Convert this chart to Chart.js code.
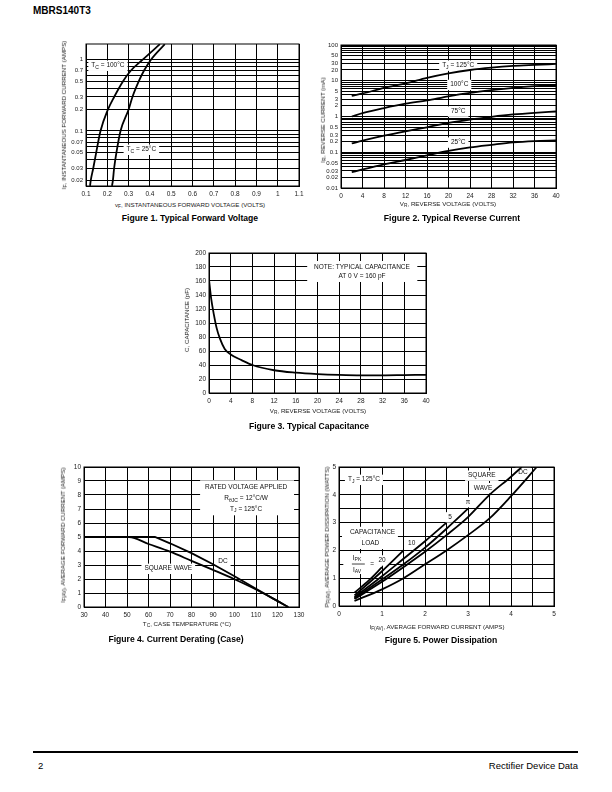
<!DOCTYPE html>
<html>
<head>
<meta charset="utf-8">
<script src="https://cdn.jsdelivr.net/npm/chart.js@4.4.1/dist/chart.umd.min.js"></script>
<style>
body { margin: 0; background: #fff; }
#page { position: relative; width: 612px; height: 792px; background: #fff; font-family: "Liberation Sans", Arial, sans-serif; color: #000; overflow: hidden; }
canvas { position: absolute; }
.t { position: absolute; white-space: nowrap; font-size: 6.2px; line-height: 1; transform: translate(-50%, -50%); color: #222; }
.rot { transform: translate(-50%, -50%) rotate(-90deg); }
.cap { position: absolute; white-space: nowrap; font-size: 8.6px; font-weight: bold; line-height: 1; transform: translate(-50%, -50%); }
sub { font-size: 0.78em; vertical-align: -0.3em; line-height: 0; }
#head { position: absolute; left: 33px; top: 5px; font-size: 10px; font-weight: bold; }
#rule { position: absolute; left: 33px; top: 751px; width: 545px; height: 2px; background: #000; }
#pg { position: absolute; left: 38px; top: 760px; font-size: 9.5px; }
#src { position: absolute; right: 34px; top: 760px; font-size: 9.5px; }
</style>
</head>
<body>
<div id="page">
  <div id="head">MBRS140T3</div>

  <canvas id="fig1"></canvas>
  <div class="t rot" style="left:64px;top:115px">I<sub>F</sub>, INSTANTANEOUS FORWARD CURRENT (AMPS)</div>
  <div class="t" style="left:190px;top:205px">v<sub>F</sub>, INSTANTANEOUS FORWARD VOLTAGE (VOLTS)</div>
  <div class="cap" style="left:190px;top:218px">Figure 1. Typical Forward Voltage</div>

  <canvas id="fig2"></canvas>
  <div class="t rot" style="left:323px;top:120px">I<sub>R</sub>, REVERSE CURRENT (mA)</div>
  <div class="t" style="left:448px;top:204px">V<sub>R</sub>, REVERSE VOLTAGE (VOLTS)</div>
  <div class="cap" style="left:452px;top:218px">Figure 2. Typical Reverse Current</div>

  <canvas id="fig3"></canvas>
  <div class="t rot" style="left:187px;top:320px">C, CAPACITANCE (pF)</div>
  <div class="t" style="left:318px;top:411px">V<sub>R</sub>, REVERSE VOLTAGE (VOLTS)</div>
  <div class="cap" style="left:309px;top:426px">Figure 3. Typical Capacitance</div>

  <canvas id="fig4"></canvas>
  <div class="t rot" style="left:63px;top:535px">I<sub>F(AV)</sub>, AVERAGE FORWARD CURRENT (AMPS)</div>
  <div class="t" style="left:187px;top:624px">T<sub>C</sub>, CASE TEMPERATURE (°C)</div>
  <div class="cap" style="left:176px;top:639px">Figure 4. Current Derating (Case)</div>

  <canvas id="fig5"></canvas>
  <div class="t rot" style="left:327px;top:537px">P<sub>F(AV)</sub>, AVERAGE POWER DISSIPATION (WATTS)</div>
  <div class="t" style="left:437px;top:627px">I<sub>F(AV)</sub>, AVERAGE FORWARD CURRENT (AMPS)</div>
  <div class="cap" style="left:441px;top:640px">Figure 5. Power Dissipation</div>

  <div id="rule"></div>
  <div id="pg">2</div>
  <div id="src">Rectifier Device Data</div>
</div>

<script>
// Figure 1: forward voltage (V) vs forward current (A)
const fig1Current = [0.017, 0.02, 0.03, 0.05, 0.1, 0.2, 0.3, 0.5, 0.7, 1.0, 1.65];
const fig1Volts100 = [0.119, 0.122, 0.134, 0.148, 0.168, 0.203, 0.232, 0.274, 0.31, 0.366, 0.447];
const fig1Volts25 = [0.222, 0.226, 0.232, 0.243, 0.262, 0.3, 0.318, 0.348, 0.372, 0.405, 0.47];
const fig1XTicks = [0.1, 0.2, 0.3, 0.4, 0.5, 0.6, 0.7, 0.8, 0.9, 1, 1.1];
const fig1YTicks = [0.02, 0.03, 0.05, 0.07, 0.1, 0.2, 0.3, 0.5, 0.7, 1];

// Figure 2: reverse current (mA) vs reverse voltage
const fig2Volts = [2, 4, 8, 12, 16, 20, 24, 28, 32, 36, 40];
const fig2I125 = [3.8, 4.4, 6.3, 8.4, 12, 16, 20, 23.3, 26, 27.8, 29.5];
const fig2I100 = [1.0, 1.24, 1.72, 2.28, 2.84, 3.68, 4.57, 5.44, 6.33, 7.06, 7.54];
const fig2I75 = [0.176, 0.21, 0.29, 0.385, 0.5, 0.66, 0.82, 0.98, 1.14, 1.27, 1.38];
const fig2I25 = [0.0277, 0.033, 0.0458, 0.0607, 0.082, 0.109, 0.136, 0.161, 0.188, 0.205, 0.214];
const fig2XTicks = [0, 4, 8, 12, 16, 20, 24, 28, 32, 36, 40];
const fig2YTicks = [0.01, 0.02, 0.03, 0.05, 0.1, 0.2, 0.3, 0.5, 1, 2, 3, 5, 10, 20, 30, 50, 100];

// Figure 3: capacitance
const fig3Volts = [0, 0.4, 0.9, 1.4, 2, 2.9, 4, 6, 8, 12, 16, 20, 24, 28, 32, 36, 40];
const fig3Cap = [162, 135, 112, 93, 78, 63, 55, 47, 40, 32.5, 29, 27, 25.8, 25.2, 25.2, 25.6, 26];
const fig3XTicks = [0, 4, 8, 12, 16, 20, 24, 28, 32, 36, 40];
const fig3YTicks = [0, 20, 40, 60, 80, 100, 120, 140, 160, 180, 200];

// Figure 4: current derating
const fig4TempSq = [30, 51, 60, 70, 80, 90, 100, 110, 118, 125];
const fig4AmpsSq = [5, 5, 4.5, 3.95, 3.3, 2.65, 1.98, 1.25, 0.6, 0];
const fig4TempDc = [30, 63, 70, 80, 90, 100, 110, 118, 125];
const fig4AmpsDc = [5, 5, 4.55, 3.85, 3.05, 2.2, 1.3, 0.6, 0];
const fig4XTicks = [30, 40, 50, 60, 70, 80, 90, 100, 110, 120, 130];
const fig4YTicks = [0, 1, 2, 3, 4, 5, 6, 7, 8, 9, 10];

// Figure 5: power dissipation
const fig5I20 = [0.36, 0.7, 1.0];
const fig5P20 = [0.48, 0.93, 1.4];
const fig5I10 = [0.36, 1.0, 1.5];
const fig5P10 = [0.38, 1.25, 2.0];
const fig5I5 = [0.36, 1.0, 1.5, 2.0, 2.5];
const fig5P5 = [0.32, 1.07, 1.7, 2.33, 3.0];
const fig5IPi = [0.36, 1.0, 1.5, 2.0, 2.5, 3.0];
const fig5PPi = [0.28, 0.95, 1.5, 2.1, 2.78, 3.5];
const fig5ISq = [0.36, 1.0, 1.5, 2.0, 2.5, 3.0, 3.5, 4.0, 4.25];
const fig5PSq = [0.25, 0.87, 1.4, 1.95, 2.55, 3.2, 4.0, 4.65, 5.0];
const fig5IDc = [0.36, 1.0, 1.5, 2.0, 2.5, 3.0, 3.5, 4.0, 4.6];
const fig5PDc = [0.18, 0.6, 1.0, 1.5, 2.0, 2.55, 3.15, 3.95, 5.0];
const fig5Ticks = [0, 1, 2, 3, 4, 5];
const fig5Grid = [0, 0.5, 1, 1.5, 2, 2.5, 3, 3.5, 4, 4.5, 5];

const FONT = '"Liberation Sans", Arial, sans-serif';
Chart.defaults.font.family = FONT;

// 1..9 x 10^e grid lines for the log charts
function decadeGrid(lo, hi) {
  const out = [];
  for (let e = lo; e < hi; e++)
    for (let k = 1; k < 10; k++) out.push(+(k * Math.pow(10, e)).toPrecision(3));
  out.push(Math.pow(10, hi));
  return out;
}

function axis(pos, type, min, max, gridVals, labelVals, size) {
  return {
    type: type, min: min, max: max,
    position: pos === 'x' ? 'bottom' : 'left',
    border: { display: true, color: '#000', width: 1 },
    grid: { color: '#000', lineWidth: 1, drawTicks: false },
    ticks: {
      autoSkip: false, maxRotation: 0, minRotation: 0,
      padding: pos === 'x' ? 4 : 3,
      color: '#222', font: { size: size || 6.5 },
      callback: function (v) {
        const hit = labelVals.find(l => Math.abs(l - v) <= Math.abs(l) * 1e-6 + 1e-12);
        return hit === undefined ? '' : String(hit);
      }
    },
    afterBuildTicks: function (s) { s.ticks = gridVals.map(v => ({ value: v })); },
    afterFit: function (s) { if (pos === 'x') s.height = 14; else s.width = 28; }
  };
}

function parseRich(str) {
  const out = []; const re = /_\{([^}]*)\}/g; let last = 0, m;
  while ((m = re.exec(str))) {
    if (m.index > last) out.push([str.slice(last, m.index), false]);
    out.push([m[1], true]);
    last = re.lastIndex;
  }
  if (last < str.length) out.push([str.slice(last), false]);
  return out;
}

function drawRich(ctx, str, cx, cy, size, pass) {
  const parts = parseRich(str);
  const fMain = size + 'px ' + FONT, fSub = (size * 0.78) + 'px ' + FONT;
  let w = 0;
  parts.forEach(p => { ctx.font = p[1] ? fSub : fMain; w += ctx.measureText(p[0]).width; });
  let x = cx - w / 2;
  if (pass === 'bg') {
    ctx.fillStyle = '#fff';
    ctx.fillRect(x - 3, cy - size * 0.75, w + 6, size * 1.6);
    return;
  }
  ctx.fillStyle = '#111'; ctx.textBaseline = 'middle'; ctx.textAlign = 'left';
  parts.forEach(p => {
    ctx.font = p[1] ? fSub : fMain;
    ctx.fillText(p[0], x, cy + (p[1] ? size * 0.3 : 0));
    x += ctx.measureText(p[0]).width;
  });
}

function notesPlugin(notes) {
  return {
    id: 'notes',
    beforeDatasetsDraw(chart) {
      const ctx = chart.ctx, sx = chart.scales.x, sy = chart.scales.y;
      ctx.save();
      notes.forEach(n => {
        if (n.rect) {
          const x0 = sx.getPixelForValue(n.rect[0]), y0 = sy.getPixelForValue(n.rect[1]);
          const x1 = sx.getPixelForValue(n.rect[2]), y1 = sy.getPixelForValue(n.rect[3]);
          ctx.fillStyle = '#fff';
          ctx.fillRect(Math.min(x0, x1), Math.min(y0, y1), Math.abs(x1 - x0), Math.abs(y1 - y0));
        } else if (n.t && n.box) {
          drawRich(ctx, n.t, sx.getPixelForValue(n.x), sy.getPixelForValue(n.y), 6.5, 'bg');
        }
      });
      notes.forEach(n => {
        if (n.bar) {
          const yb = sy.getPixelForValue(n.bar[2]);
          ctx.strokeStyle = '#111'; ctx.lineWidth = 0.8;
          ctx.beginPath();
          ctx.moveTo(sx.getPixelForValue(n.bar[0]), yb);
          ctx.lineTo(sx.getPixelForValue(n.bar[1]), yb);
          ctx.stroke();
        } else if (n.t) {
          drawRich(ctx, n.t, sx.getPixelForValue(n.x), sy.getPixelForValue(n.y), 6.5, 'fg');
        }
      });
      const a = chart.chartArea;
      ctx.strokeStyle = '#000'; ctx.lineWidth = 1;
      ctx.strokeRect(a.left, a.top, a.right - a.left, a.bottom - a.top);
      ctx.restore();
    }
  };
}

function series(xs, ys) {
  return {
    data: xs.map((x, i) => ({ x: x, y: ys[i] })),
    showLine: true, borderColor: '#000', borderWidth: 1.8,
    pointRadius: 0, cubicInterpolationMode: 'monotone'
  };
}
function straight(xs, ys) {
  const s = series(xs, ys);
  s.cubicInterpolationMode = 'default'; s.tension = 0;
  return s;
}

function makeChart(id, plot, xAx, yAx, datasets, notes) {
  const cv = document.getElementById(id);
  const padT = 8, padR = 10, yw = 28, xh = 14;
  cv.width = yw + (plot.r - plot.l) + padR;
  cv.height = padT + (plot.b - plot.t) + xh;
  cv.style.left = (plot.l - yw) + 'px';
  cv.style.top = (plot.t - padT) + 'px';
  return new Chart(cv, {
    type: 'scatter',
    data: { datasets: datasets },
    options: {
      responsive: false, animation: false, devicePixelRatio: 1, events: [],
      layout: { padding: { top: padT, right: padR, left: 0, bottom: 0 } },
      plugins: { legend: { display: false }, tooltip: { enabled: false }, title: { display: false } },
      scales: { x: xAx, y: yAx }
    },
    plugins: [notesPlugin(notes)]
  });
}

// Figure 1
makeChart('fig1', { l: 86, r: 299, t: 44, b: 186 },
  axis('x', 'linear', 0.1, 1.1, fig1XTicks, fig1XTicks),
  axis('y', 'logarithmic', 0.0169, 1.66, decadeGrid(-2, 0).filter(v => v >= 0.02), fig1YTicks, 6),
  [series(fig1Volts100, fig1Current), series(fig1Volts25, fig1Current)],
  [
    { x: 0.203, y: 0.83, t: 'T_{C} = 100°C', box: true },
    { x: 0.36, y: 0.055, t: 'T_{C} = 25°C', box: true }
  ]);

// Figure 2
makeChart('fig2', { l: 341, r: 556, t: 45, b: 188 },
  axis('x', 'linear', 0, 40, fig2XTicks, fig2XTicks),
  axis('y', 'logarithmic', 0.01, 100, decadeGrid(-2, 2), fig2YTicks, 6),
  [series(fig2Volts, fig2I125), series(fig2Volts, fig2I100), series(fig2Volts, fig2I75), series(fig2Volts, fig2I25)],
  [
    { x: 21.8, y: 27, t: 'T_{J} = 125°C', box: true },
    { x: 22, y: 7.8, t: '100°C', box: true },
    { x: 21.8, y: 1.4, t: '75°C', box: true },
    { x: 21.8, y: 0.19, t: '25°C', box: true }
  ]);

// Figure 3
makeChart('fig3', { l: 209, r: 426, t: 253, b: 393 },
  axis('x', 'linear', 0, 40, fig3XTicks, fig3XTicks),
  axis('y', 'linear', 0, 200, fig3YTicks, fig3YTicks),
  [series(fig3Volts, fig3Cap)],
  [
    { rect: [18.1, 158.6, 38.4, 188.6] },
    { x: 28.2, y: 180, t: 'NOTE: TYPICAL CAPACITANCE' },
    { x: 28.2, y: 167, t: 'AT 0 V = 160 pF' }
  ]);

// Figure 4
makeChart('fig4', { l: 84, r: 299, t: 467, b: 607 },
  axis('x', 'linear', 30, 130, fig4XTicks, fig4XTicks),
  axis('y', 'linear', 0, 10, fig4YTicks, fig4YTicks),
  [straight(fig4TempDc, fig4AmpsDc), series(fig4TempSq, fig4AmpsSq)],
  [
    { rect: [84, 6.55, 127.7, 9.05] },
    { x: 105.4, y: 8.57, t: 'RATED VOLTAGE APPLIED' },
    { x: 105.4, y: 7.74, t: 'R_{θJC} = 12°C/W' },
    { x: 105.4, y: 7.0, t: 'T_{J} = 125°C' },
    { x: 94.6, y: 3.26, t: 'DC', box: true },
    { x: 69.2, y: 2.75, t: 'SQUARE WAVE', box: true }
  ]);

// Figure 5
makeChart('fig5', { l: 339, r: 554, t: 467, b: 606 },
  axis('x', 'linear', 0, 5, fig5Grid, fig5Ticks),
  axis('y', 'linear', 0, 5, fig5Grid, fig5Ticks),
  [series(fig5I20, fig5P20), series(fig5I10, fig5P10), series(fig5I5, fig5P5),
   series(fig5IPi, fig5PPi), series(fig5ISq, fig5PSq), series(fig5IDc, fig5PDc)],
  [
    { x: 0.58, y: 4.55, t: 'T_{J} = 125°C', box: true },
    { rect: [0.07, 2.45, 1.37, 2.85] },
    { rect: [0.4, 2.05, 1.05, 2.45] },
    { rect: [0.1, 1.15, 0.92, 1.9] },
    { x: 0.78, y: 2.67, t: 'CAPACITANCE' },
    { x: 0.73, y: 2.25, t: 'LOAD' },
    { x: 0.42, y: 1.73, t: 'I_{PK}' },
    { bar: [0.3, 0.6, 1.51] },
    { x: 0.42, y: 1.29, t: 'I_{AV}' },
    { x: 0.77, y: 1.51, t: '=' },
    { x: 1.0, y: 1.65, t: '20', box: true },
    { x: 1.69, y: 2.25, t: '10', box: true },
    { x: 2.58, y: 3.2, t: '5', box: true },
    { x: 3.0, y: 3.75, t: 'π', box: true },
    { x: 3.32, y: 4.7, t: 'SQUARE', box: true },
    { x: 3.35, y: 4.25, t: 'WAVE', box: true },
    { x: 4.28, y: 4.8, t: 'DC', box: true }
  ]);
</script>
</body>
</html>
